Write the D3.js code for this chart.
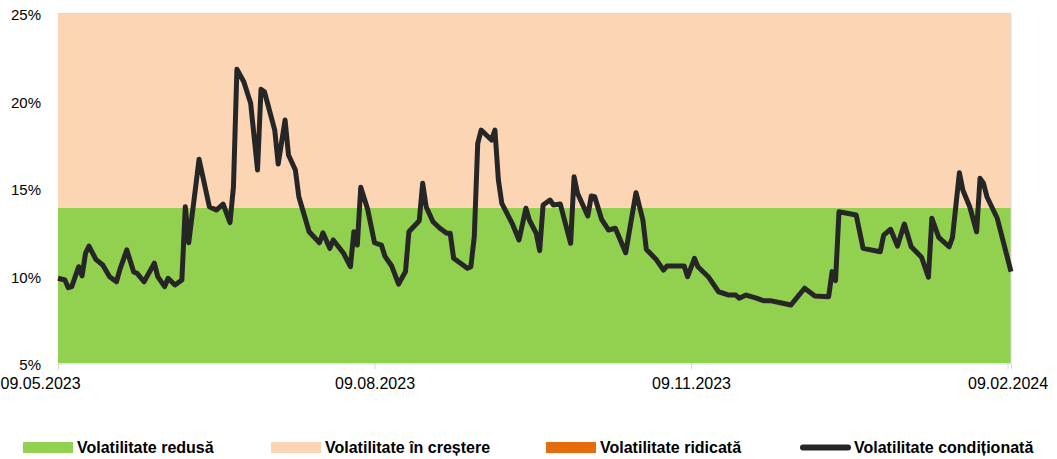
<!DOCTYPE html>
<html>
<head>
<meta charset="utf-8">
<script src="https://cdn.jsdelivr.net/npm/d3@7"></script>
<style>
  body { margin: 0; background: #fff; }
  text { font-family: "Liberation Sans", Arial, sans-serif; fill: #000; }
</style>
</head>
<body>
<script>
// volatilitate conditionata (%)
const dates = [
  "2023-05-09","2023-05-11","2023-05-12","2023-05-13","2023-05-15","2023-05-16","2023-05-17","2023-05-18","2023-05-20","2023-05-22",
  "2023-05-24","2023-05-26","2023-05-27","2023-05-29","2023-05-31","2023-06-01","2023-06-03","2023-06-06","2023-06-07","2023-06-09",
  "2023-06-10","2023-06-12","2023-06-14","2023-06-15","2023-06-16","2023-06-19","2023-06-22","2023-06-24","2023-06-26","2023-06-28",
  "2023-06-29","2023-06-30","2023-07-02","2023-07-04","2023-07-06","2023-07-07","2023-07-08","2023-07-11","2023-07-12","2023-07-14",
  "2023-07-15","2023-07-17","2023-07-18","2023-07-21","2023-07-24","2023-07-25","2023-07-27","2023-07-28","2023-07-31","2023-08-02",
  "2023-08-03","2023-08-04","2023-08-05","2023-08-07","2023-08-09","2023-08-11","2023-08-12","2023-08-14","2023-08-16","2023-08-18",
  "2023-08-19","2023-08-22","2023-08-23","2023-08-24","2023-08-26","2023-08-28","2023-08-30","2023-08-31","2023-09-01","2023-09-05",
  "2023-09-06","2023-09-07","2023-09-08","2023-09-09","2023-09-12","2023-09-13","2023-09-14","2023-09-15","2023-09-18","2023-09-20",
  "2023-09-22","2023-09-23","2023-09-25","2023-09-26","2023-09-27","2023-09-29","2023-09-30","2023-10-02","2023-10-05","2023-10-06",
  "2023-10-07","2023-10-10","2023-10-11","2023-10-12","2023-10-14","2023-10-16","2023-10-18","2023-10-21","2023-10-24","2023-10-26",
  "2023-10-27","2023-10-30","2023-11-01","2023-11-02","2023-11-07","2023-11-08","2023-11-10","2023-11-11","2023-11-14","2023-11-17",
  "2023-11-20","2023-11-22","2023-11-23","2023-11-25","2023-11-28","2023-11-30","2023-12-02","2023-12-05","2023-12-08","2023-12-12",
  "2023-12-15","2023-12-19","2023-12-20","2023-12-21","2023-12-22","2023-12-27","2023-12-29","2024-01-03","2024-01-04","2024-01-06",
  "2024-01-08","2024-01-10","2024-01-12","2024-01-15","2024-01-17","2024-01-18","2024-01-20","2024-01-23","2024-01-24","2024-01-26",
  "2024-01-27","2024-01-29","2024-01-31","2024-02-01","2024-02-02","2024-02-03","2024-02-06","2024-02-10"
];
const volatility = [
  9.87, 9.77, 9.33, 9.39, 10.53, 10.0, 11.30, 11.71, 10.95, 10.63,
  9.96, 9.67, 10.38, 11.49, 10.23, 10.15, 9.67, 10.73, 9.96, 9.39,
  9.87, 9.49, 9.77, 13.96, 11.90, 16.67, 13.96, 13.77, 14.11, 13.05,
  15.10, 21.81, 21.10, 19.87, 16.06, 20.67, 20.53, 18.34, 16.40, 18.91,
  16.91, 16.06, 14.53, 12.53, 11.90, 12.47, 11.58, 12.06, 11.30, 10.53,
  12.53, 11.77, 15.07, 13.81, 11.90, 11.77, 11.14, 10.57, 9.54, 10.25,
  12.53, 13.16, 15.30, 13.96, 13.10, 12.73, 12.44, 12.44, 11.01, 10.44,
  10.53, 12.25, 17.58, 18.34, 17.77, 18.34, 15.49, 14.15, 13.01, 12.06,
  13.87, 13.20, 12.44, 11.45, 14.06, 14.34, 14.06, 14.11, 11.87, 15.67,
  14.73, 13.43, 14.57, 14.53, 13.24, 12.63, 12.73, 11.33, 14.76, 13.20,
  11.53, 10.91, 10.34, 10.57, 10.57, 9.96, 11.01, 10.53, 9.96, 9.10,
  8.91, 8.91, 8.73, 8.91, 8.73, 8.59, 8.59, 8.47, 8.34, 9.30,
  8.86, 8.82, 10.25, 9.73, 13.67, 13.49, 11.58, 11.39, 12.34, 12.67,
  11.71, 12.97, 11.67, 11.07, 9.93, 13.30, 12.21, 11.67, 12.21, 15.90,
  14.91, 13.96, 12.53, 15.58, 15.30, 14.53, 13.30, 10.25
];

// praguri zone (%)
const bandNames = ["Volatilitate redusă", "Volatilitate în creștere", "Volatilitate ridicată"];
const bandFrom = [5, 13.9, 25];
const bandTo = [13.9, 25, 30];
const bandColors = ["#92d050", "#fcd5b5", "#e46c0a"];
const lineName = "Volatilitate condiționată";

const yTicks = [5, 10, 15, 20, 25];
const xTicks = ["2023-05-09", "2023-08-09", "2023-11-09", "2024-02-09"];

const parse = d3.timeParse("%Y-%m-%d");
const series = dates.map((d, i) => ({ date: parse(d), v: volatility[i] }));

const width = 1057, height = 459;
const plotLeft = 58, plotRight = 1011, plotTop = 13.5, plotBottom = 363.5;

const svg = d3.select("body")
              .append("svg")
              .attr("width", width)
              .attr("height", height);

const x = d3.scaleTime()
            .domain([parse("2023-05-09"), parse("2024-02-10")])
            .range([plotLeft, plotRight]);

const y = d3.scaleLinear()
            .domain([5, 25])
            .range([plotBottom, plotTop]);

svg.append("clipPath")
   .attr("id", "plot")
   .append("rect")
     .attr("x", plotLeft)
     .attr("y", plotTop)
     .attr("width", plotRight - plotLeft)
     .attr("height", plotBottom - plotTop);

// zone colorate
svg.append("g")
   .attr("clip-path", "url(#plot)")
   .selectAll("rect")
   .data(bandNames)
   .enter()
     .append("rect")
     .attr("x", plotLeft)
     .attr("width", plotRight - plotLeft)
     .attr("y", (d, i) => y(bandTo[i]))
     .attr("height", (d, i) => Math.max(0, y(bandFrom[i]) - y(bandTo[i])))
     .attr("fill", (d, i) => bandColors[i]);

// chenar fin sus si dreapta
svg.append("path")
   .attr("d", `M${plotLeft},${plotTop}H${plotRight}V${plotBottom}`)
   .attr("fill", "none")
   .attr("stroke", "#d9d9d9")
   .attr("stroke-width", 1);

// axa y
const yAxis = svg.append("g")
                 .attr("transform", `translate(${plotLeft},0)`)
                 .call(d3.axisLeft(y).tickValues(yTicks).tickSize(0).tickPadding(17).tickFormat(d => d + "%"));
yAxis.select(".domain").remove();
yAxis.selectAll("text")
     .attr("dy", "0.42em")
     .style("font-size", "15px");

// axa x
const xAxis = svg.append("g")
                 .attr("transform", `translate(0,${plotBottom})`)
                 .call(d3.axisBottom(x)
                         .tickValues(xTicks.map(parse))
                         .tickSize(6)
                         .tickPadding(8)
                         .tickFormat(d3.timeFormat("%d.%m.%Y")));
xAxis.select(".domain")
     .attr("stroke", "#d9d9d9");
xAxis.selectAll("line")
     .attr("stroke", "#d9d9d9");
xAxis.selectAll("text")
     .style("font-size", "16px");
xAxis.select(".tick text")
     .attr("text-anchor", "start")
     .attr("x", -plotLeft);

// linia
const line = d3.line()
               .x(d => x(d.date))
               .y(d => y(d.v));

svg.append("path")
   .datum(series)
   .attr("d", line)
   .attr("fill", "none")
   .attr("stroke", "#262626")
   .attr("stroke-width", 5)
   .attr("stroke-linejoin", "round")
   .attr("stroke-linecap", "butt");

// legenda
const legendX = [23, 271, 546, 800];
const legendItems = bandNames.concat([lineName]);

const legend = svg.selectAll(".legend")
                  .data(legendItems)
                  .enter()
                    .append("g")
                    .attr("class", "legend")
                    .attr("transform", (d, i) => `translate(${legendX[i]},447)`);

legend.filter((d, i) => i < 3)
      .append("rect")
      .attr("x", 0)
      .attr("y", -5)
      .attr("width", 50)
      .attr("height", 11)
      .attr("fill", (d, i) => bandColors[i]);

legend.filter((d, i) => i === 3)
      .append("line")
      .attr("x1", 3)
      .attr("x2", 48)
      .attr("y1", 0.5)
      .attr("y2", 0.5)
      .attr("stroke", "#262626")
      .attr("stroke-width", 6)
      .attr("stroke-linecap", "round");

legend.append("text")
      .attr("x", 54)
      .attr("y", 0)
      .attr("dy", "0.36em")
      .style("font-size", "16px")
      .style("font-weight", "bold")
      .text(d => d);
</script>
</body>
</html>
